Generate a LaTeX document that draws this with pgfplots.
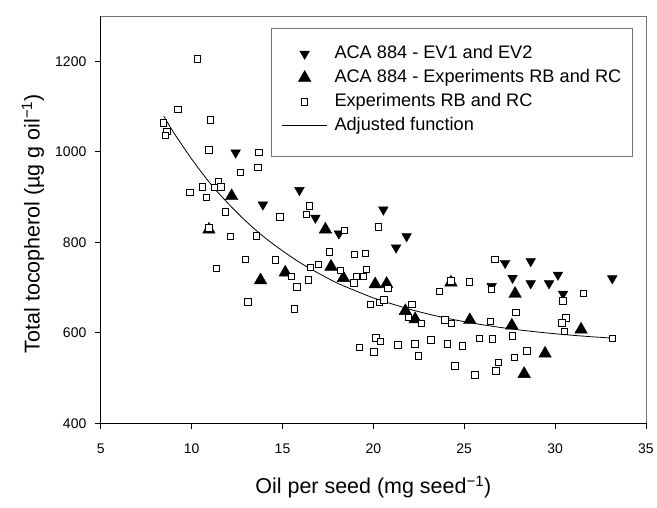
\documentclass[border=0pt]{standalone}
\usepackage{fontspec}
\setmainfont{Liberation Sans}
\usepackage{pgfplots}
\pgfplotsset{compat=1.18}
\begin{document}
\begin{tikzpicture}
\begin{axis}[
  scale only axis,
  width=546pt, height=408pt,
  xmin=5, xmax=35, ymin=400, ymax=1300,
  xtick={5,10,15,20,25,30,35},
  ytick={400,600,800,1000,1200},
  axis lines=left,
  axis line style={-, line width=0.8pt, black},
  tick align=outside,
  major tick length=6pt,
  tick style={line width=0.8pt, black},
  /pgf/number format/assume math mode=true,
  /pgf/number format/1000 sep={},
  tick label style={font=\fontsize{14}{16}\selectfont},
  xticklabel style={yshift=-11pt},
  yticklabel style={xshift=-5pt},
  label style={font=\fontsize{21.5}{25}\selectfont},
  xlabel={Oil per seed (mg seed\textsuperscript{−1})},
  ylabel={Total tocopherol (µg g oil\textsuperscript{−1})},
  xlabel style={at={(rel axis cs:0.5,0)}, anchor=center, yshift=-64pt},
  ylabel style={at={(rel axis cs:0,0.5)}, anchor=center, yshift=68pt, xshift=-4pt},
  legend image code/.code={\draw[mark repeat=2,mark phase=2,#1] plot coordinates {(0pt,0pt) (22.5pt,0pt) (45pt,0pt)};},
  legend style={at={(axis cs:14.4,1273)}, anchor=north west,
    draw=none, fill=none, font=\fontsize{18.2}{21}\selectfont,
    inner xsep=10pt, inner ysep=15pt, row sep=3pt, column sep=5pt,
    nodes={inner sep=2pt, text height=13pt, text depth=4pt}},
  legend cell align=left,
  clip=false,
]
\addplot[only marks, mark=triangle*, mark options={rotate=180, fill=black, draw=black}, mark size=5.6pt] coordinates {
(12.42,998) (13.92,883) (15.93,915) (16.81,854) (18.1,819) (20.55,872)
(21.83,813) (21.25,788) (26.51,703) (27.25,754) (28.66,758) (27.66,721)
(28.66,709) (29.67,709) (30.16,728) (33.15,720) (30.44,686)
};
\addlegendentry{ACA 884 - EV1 and EV2}
\addplot[only marks, mark=triangle*, mark options={fill=black, draw=black}, mark size=7.3pt] coordinates {
(10.95,828) (12.2,902) (13.79,716) (15.15,733) (17.36,828) (17.67,746)
(18.35,721) (20.1,707) (20.73,708) (21.76,648) (22.3,630) (24.27,711)
(25.31,628) (27.62,616) (27.8,686) (29.45,554) (28.3,509) (31.43,607)
};
\addlegendentry{ACA 884 - Experiments RB and RC}
\addplot[only marks, mark=square*, mark options={fill=white, draw=black, line width=0.8pt}, mark size=3.2pt] coordinates {
(10.33,1205) (9.25,1094) (11.03,1070) (8.46,1064) (8.64,1045) (8.57,1036)
(10.95,1004) (13.7,998) (13.64,965) (12.67,954) (11.47,933) (11.28,921)
(11.61,922) (10.6,922) (9.9,910) (10.81,899) (11.85,867) (14.85,856)
(10.95,832) (12.14,813) (13.55,814) (12.97,762) (14.6,761) (11.35,742)
(15.49,724) (15.8,701) (13.1,668) (15.64,653) (16.48,880) (16.3,862)
(18.4,826) (20.27,834) (17.58,779) (18.96,773) (19.56,775) (16.43,717)
(16.54,745) (16.98,751) (18.19,738) (19.05,725) (19.45,724) (19.6,740)
(18.93,710) (20.8,698) (19.82,663) (20.33,667) (20.59,673) (22.12,663)
(21.94,634) (22.64,621) (23.63,692) (24.27,715) (23.94,628) (24.3,621)
(19.23,567) (20.15,589) (20.4,581) (20.04,558) (21.36,573) (22.29,575)
(23.17,584) (24.07,575) (22.49,549) (24.49,527) (25.27,712) (26.69,762)
(26.51,696) (27.84,645) (31.57,687) (30.44,670) (30.6,633) (30.38,622)
(30.51,603) (33.15,588) (26.43,625) (27.66,593) (25.84,588) (26.55,586)
(24.89,571) (28.44,560) (27.75,545) (26.87,535) (26.74,516) (25.59,507)
};
\addlegendentry{Experiments RB and RC}
\addplot[black, line width=0.8pt, no marks, smooth] coordinates {
(8.46,1079) (9,1043) (10,984) (11,931) (12,886) (13,846) (14,811) (15,781)
(16,754) (17,731) (18,710) (19,693) (20,677) (21,664) (22,652) (23,641.5)
(24,632.5) (25,624.6) (26,617.7) (27,611.7) (28,606.4) (29,601.8) (30,597.8)
(31,594.3) (32,591.2) (33.1,588.3)
};
\addlegendentry{Adjusted function}
\draw[black!55, line width=0.8pt] (rel axis cs:0,1) -- (rel axis cs:1,1) -- (rel axis cs:1,0);
\draw[black!55, line width=0.8pt] (axis cs:14.4,1273) rectangle (axis cs:34.23,990);
\end{axis}
\path (current axis.south west) ++(-101pt,-84pt) coordinate (bbA);
\path (current axis.north east) ++(10pt,16pt) coordinate (bbB);
\useasboundingbox (bbA) rectangle (bbB);
\end{tikzpicture}
\end{document}
